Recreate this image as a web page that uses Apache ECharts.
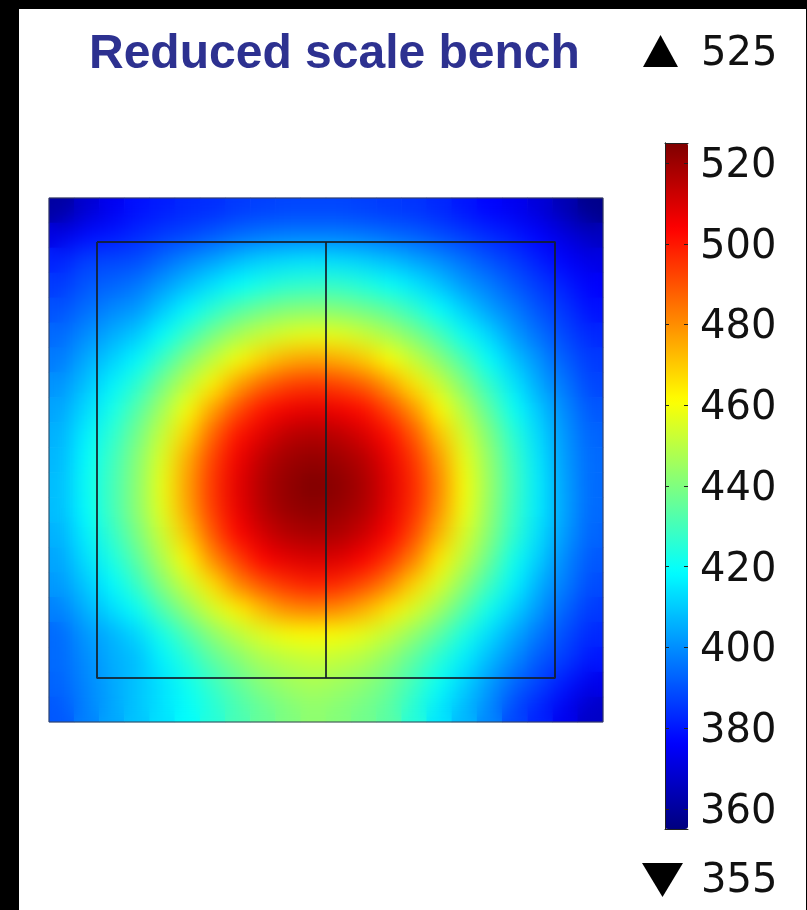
<!DOCTYPE html>
<html>
<head>
<meta charset="utf-8">
<script src="https://cdn.jsdelivr.net/npm/echarts@6/dist/echarts.min.js"></script>
<style>
html,body{margin:0;padding:0;background:#000;width:807px;height:910px;overflow:hidden;}
#base,#top{position:absolute;left:0;top:0;width:807px;height:910px;}
#blurClip{position:absolute;left:49px;top:198px;width:554px;height:524px;overflow:hidden;}
#blur{position:absolute;left:0;top:0;width:554px;height:524px;filter:blur(11px);}
</style>
</head>
<body>
<div id="base"></div>
<div id="blurClip"><div id="blur"></div></div>
<div id="top"></div>
<script>
// ---------- data ----------
const chartTitle = 'Reduced scale bench';
const scaleMin = 355;
const scaleMax = 525;
const colorbarTicks = [360, 380, 400, 420, 440, 460, 480, 500, 520];

// temperature field, rows top -> bottom, columns left -> right
const row00 = [361,369,374,379,381,383,384,386,387,388,388,388,387,386,385,383,380,377,374,370,364,357];
const row01 = [372,378,380,383,386,388,391,394,396,397,397,397,396,394,392,389,386,383,380,376,371,366];
const row02 = [382,387,388,389,394,399,403,408,411,413,414,413,411,408,404,400,395,390,386,381,376,372];
const row03 = [386,391,393,396,402,408,414,419,423,426,427,427,424,420,415,409,402,397,391,386,381,376];
const row04 = [390,395,399,402,410,418,426,433,438,441,442,441,438,434,427,419,411,403,397,390,385,379];
const row05 = [394,400,405,410,419,429,439,447,452,456,458,457,453,447,440,431,420,412,402,395,388,383];
const row06 = [397,405,411,418,429,441,451,460,469,475,477,475,470,461,452,442,431,419,409,400,392,386];
const row07 = [401,409,417,426,439,451,463,477,487,493,495,493,488,478,465,453,440,427,415,404,396,388];
const row08 = [404,413,422,433,446,460,477,491,501,506,508,506,502,492,479,462,448,434,420,409,399,391];
const row09 = [406,417,426,438,452,468,487,501,509,515,517,515,510,502,489,471,454,440,425,412,401,393];
const row10 = [407,419,429,441,456,475,493,506,515,520,522,520,516,507,495,478,458,443,428,414,402,394];
const row11 = [408,420,430,442,458,477,495,508,517,522,525,523,518,509,497,481,460,444,429,415,403,394];
const row12 = [408,419,430,442,457,476,494,507,516,521,523,521,517,508,496,479,459,443,428,415,403,394];
const row13 = [406,417,427,439,453,470,489,503,511,516,518,517,512,504,491,473,455,441,426,413,402,393];
const row14 = [404,414,423,434,448,462,480,493,504,508,510,509,504,495,482,464,450,436,421,410,399,391];
const row15 = [402,410,418,428,441,453,466,481,490,496,499,497,491,482,468,455,442,429,417,405,397,389];
const row16 = [398,406,413,420,432,443,454,463,473,480,482,480,474,465,455,445,433,421,411,401,393,386];
const row17 = [394,402,406,412,422,432,442,450,456,460,461,460,457,451,443,434,423,413,404,396,389,383];
const row18 = [394,400,405,408,417,425,434,441,447,450,452,451,448,442,434,425,416,407,399,391,386,380];
const row19 = [393,399,404,409,414,421,428,435,441,445,447,445,442,437,429,420,411,402,393,387,380,373];
const row20 = [391,398,404,409,414,419,425,431,436,440,443,441,438,434,425,415,407,399,388,382,374,367];
const tempRows = [row00,row01,row02,row03,row04,row05,row06,row07,row08,row09,row10,
                  row11,row12,row13,row14,row15,row16,row17,row18,row19,row20];

// bench geometry (domain units)
const domainW = 554;
const domainH = 524;
const innerBox = [[48,44],[506,44],[506,480],[48,480],[48,44]];
const divider = [[277,44],[277,480]];

// ---------- build ----------
const jet = ['#00007f','#0000ff','#007fff','#00ffff','#7fff7f','#ffff00','#ff7f00','#ff0000','#7f0000'];
const colCats = tempRows[0].map((_, i) => String(i));
const rowCats = tempRows.map((_, j) => String(j));
const heatData = [];
tempRows.forEach((row, j) => row.forEach((v, i) => heatData.push([i, j, v])));

const numFont = '40px "DejaVu Sans"';

const baseChart = echarts.init(document.getElementById('base'));
baseChart.setOption({
  backgroundColor: '#ffffff',
  animation: false,
  title: {
    text: chartTitle, left: 89, top: 31, padding: 0,
    textStyle: {fontFamily: 'Liberation Sans', fontSize: 48, fontWeight: 'bold', color: '#2d3190'}
  },
  grid: [{left: 49, top: 198, width: 554, height: 524, show: false}],
  xAxis: [{type: 'category', gridIndex: 0, data: colCats, show: false}],
  yAxis: [{type: 'category', gridIndex: 0, data: rowCats, inverse: true, show: false}],
  visualMap: {
    type: 'continuous', min: scaleMin, max: scaleMax, seriesIndex: 0,
    orient: 'vertical', left: 665, top: 143, itemWidth: 23, itemHeight: 686,
    padding: 0, calculable: false, text: null, hoverLink: false,
    inRange: {color: jet}
  },
  series: [{
    type: 'heatmap', xAxisIndex: 0, yAxisIndex: 0, data: heatData,
    progressive: 0, silent: true, itemStyle: {borderWidth: 0}
  }],
  graphic: [
    {type: 'rect', shape: {x: 0, y: 0, width: 19, height: 910}, style: {fill: '#000'}},
    {type: 'rect', shape: {x: 0, y: 0, width: 807, height: 9}, style: {fill: '#000'}},
    {type: 'rect', shape: {x: 806, y: 0, width: 1, height: 910}, style: {fill: '#000'}},
    {type: 'polygon', shape: {points: [[643, 67], [678, 67], [660.5, 35]]}, style: {fill: '#000'}},
    {type: 'polygon', shape: {points: [[642, 863], [683, 863], [662.5, 897]]}, style: {fill: '#000'}},
    {type: 'text', x: 701, y: 55,
     style: {text: String(scaleMax), font: numFont, fill: '#111', textAlign: 'left', textVerticalAlign: 'middle', align: 'left', verticalAlign: 'middle'}},
    {type: 'text', x: 701, y: 882,
     style: {text: String(scaleMin), font: numFont, fill: '#111', textAlign: 'left', textVerticalAlign: 'middle', align: 'left', verticalAlign: 'middle'}}
  ]
});

const blurChart = echarts.init(document.getElementById('blur'));
blurChart.setOption({
  animation: false,
  grid: {left: 0, top: 0, right: 0, bottom: 0},
  xAxis: {type: 'category', data: colCats, show: false},
  yAxis: {type: 'category', data: rowCats, inverse: true, show: false},
  visualMap: {show: false, type: 'continuous', min: scaleMin, max: scaleMax, inRange: {color: jet}},
  series: [{type: 'heatmap', data: heatData, progressive: 0, silent: true}]
});

const frameLine = {show: true, lineStyle: {color: '#222', width: 1}};
const noTick = {show: false};
const noLabel = {show: false};
const noSplit = {show: false};

const topChart = echarts.init(document.getElementById('top'));
topChart.setOption({
  animation: false,
  grid: [
    {left: 49, top: 198, width: 554, height: 524, show: true, borderColor: '#3a4055', borderWidth: 1, backgroundColor: 'transparent'},
    {left: 665, top: 143, width: 23, height: 686, show: false}
  ],
  xAxis: [
    {type: 'value', gridIndex: 0, min: 0, max: domainW, show: false},
    {type: 'value', gridIndex: 1, min: 0, max: 1, position: 'bottom', axisLine: frameLine,
     axisTick: noTick, axisLabel: noLabel, splitLine: noSplit},
    {type: 'value', gridIndex: 1, min: 0, max: 1, position: 'top', axisLine: frameLine,
     axisTick: noTick, axisLabel: noLabel, splitLine: noSplit}
  ],
  yAxis: [
    {type: 'value', gridIndex: 0, min: 0, max: domainH, inverse: true, show: false},
    // right frame + labels
    {type: 'value', gridIndex: 1, min: scaleMin, max: scaleMax, position: 'right',
     axisLine: frameLine, axisTick: noTick, splitLine: noSplit,
     axisLabel: {show: true, customValues: colorbarTicks, margin: 12,
                 formatter: '{v|{value}}',
                 rich: {v: {fontSize: 40, fontFamily: 'DejaVu Sans', color: '#111', padding: [7, 0, 0, 0]}}}},
    // left frame
    {type: 'value', gridIndex: 1, min: scaleMin, max: scaleMax, position: 'left',
     axisLine: frameLine, axisTick: noTick, axisLabel: noLabel, splitLine: noSplit},
    // tick marks just inside the right edge
    {type: 'value', gridIndex: 1, min: scaleMin, max: scaleMax, position: 'right', offset: -4,
     axisLine: {show: false}, axisLabel: noLabel, splitLine: noSplit,
     axisTick: {show: true, inside: false, length: 4, customValues: colorbarTicks, lineStyle: {color: '#222', width: 1}}},
    // tick marks just inside the left edge
    {type: 'value', gridIndex: 1, min: scaleMin, max: scaleMax, position: 'left', offset: -4,
     axisLine: {show: false}, axisLabel: noLabel, splitLine: noSplit,
     axisTick: {show: true, inside: false, length: 4, customValues: colorbarTicks, lineStyle: {color: '#222', width: 1}}}
  ],
  series: [
    {type: 'line', xAxisIndex: 0, yAxisIndex: 0, data: innerBox, symbol: 'none', silent: true,
     lineStyle: {color: 'rgba(20,30,40,0.85)', width: 2}},
    {type: 'line', xAxisIndex: 0, yAxisIndex: 0, data: divider, symbol: 'none', silent: true,
     lineStyle: {color: 'rgba(20,30,40,0.85)', width: 2}}
  ]
});
</script>
</body>
</html>
